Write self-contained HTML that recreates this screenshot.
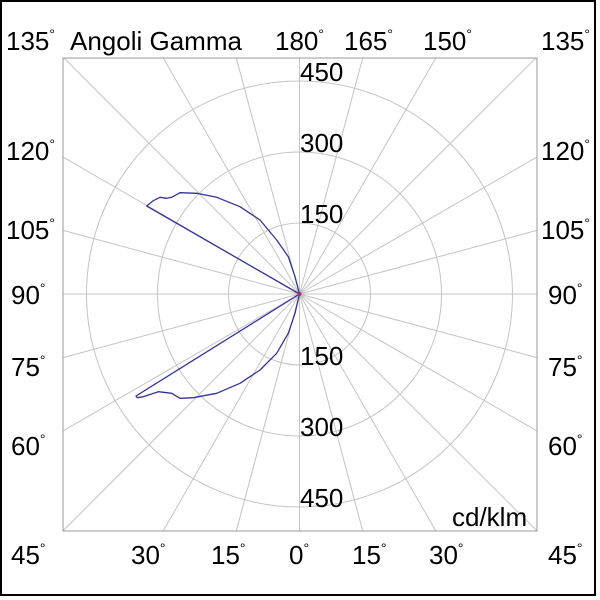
<!DOCTYPE html>
<html><head><style>body{margin:0;background:#fff}svg{display:block}</style></head><body>
<svg width="600" height="600" xmlns="http://www.w3.org/2000/svg" font-family="Liberation Sans, sans-serif">
<rect x="0" y="0" width="600" height="600" fill="#fff"/>
<rect x="1" y="1" width="594" height="594" fill="none" stroke="#000" stroke-width="2"/>
<defs><clipPath id="c"><rect x="63" y="58" width="474" height="473"/></clipPath></defs>
<g clip-path="url(#c)" stroke="#c4c4c4" stroke-width="1" fill="none">
<circle cx="299.5" cy="294" r="71"/>
<circle cx="299.5" cy="294" r="142"/>
<circle cx="299.5" cy="294" r="213"/>
<path d="M299.5,294 L299.5,58 M299.5,294 L299.5,531 M299.5,294 L63,294 M299.5,294 L537,294
M299.5,294 L362.7,58 M299.5,294 L236.3,58 M299.5,294 L362.7,531 M299.5,294 L236.3,531
M299.5,294 L435.8,58 M299.5,294 L163.2,58 M299.5,294 L435.8,531 M299.5,294 L163.2,531
M299.5,294 L537,57 M299.5,294 L63,57 M299.5,294 L537,531 M299.5,294 L63,531
M299.5,294 L537,157 M299.5,294 L63,157 M299.5,294 L537,431 M299.5,294 L63,431
M299.5,294 L537,230.4 M299.5,294 L63,230.4 M299.5,294 L537,357.6 M299.5,294 L63,357.6"/>
</g>
<rect x="63" y="58" width="474" height="473" fill="none" stroke="#999" stroke-width="1"/>
<path fill="none" stroke="#33339a" stroke-width="1.3" stroke-linejoin="round" d="M299.5,294 L146.7,206 L153.3,200.7 L160,197.3 L166.7,198.3 L171.7,197.3 L180,192.7 L196.7,193.3 L216.7,197.3 L240,206.7 L260,220 L276.7,240 L288.3,256.7 L295,276.7 Z"/>
<path fill="none" stroke="#33339a" stroke-width="1.3" stroke-linejoin="round" d="M299.5,294 L136,396 L137.3,397.7 L143.3,396.7 L158.3,391.7 L171.7,393.3 L180,398.3 L193.3,397.7 L216.7,393.3 L240,383.3 L260,370 L276.7,353.3 L288.3,333.3 L295,313.3 Z"/>
<circle cx="299.5" cy="294" r="2" fill="#a03060"/>
<g font-size="26" fill="#000">
<text x="300" y="81">450</text>
<text x="300" y="152">300</text>
<text x="300" y="223">150</text>
<text x="300" y="365">150</text>
<text x="300" y="436">300</text>
<text x="300" y="507">450</text>
<text x="452" y="526">cd/klm</text>
<text x="70" y="50">Angoli Gamma</text>
</g>
<g font-size="26" fill="#000">
<text x="6" y="50">135<tspan font-size="14" dy="-11">°</tspan></text>
<text x="275" y="50">180<tspan font-size="14" dy="-11">°</tspan></text>
<text x="344" y="50">165<tspan font-size="14" dy="-11">°</tspan></text>
<text x="423" y="50">150<tspan font-size="14" dy="-11">°</tspan></text>
<text x="541" y="50">135<tspan font-size="14" dy="-11">°</tspan></text>
<text x="6" y="160">120<tspan font-size="14" dy="-11">°</tspan></text>
<text x="541" y="160">120<tspan font-size="14" dy="-11">°</tspan></text>
<text x="6" y="239">105<tspan font-size="14" dy="-11">°</tspan></text>
<text x="541" y="239">105<tspan font-size="14" dy="-11">°</tspan></text>
<text x="11" y="304">90<tspan font-size="14" dy="-11">°</tspan></text>
<text x="548" y="304">90<tspan font-size="14" dy="-11">°</tspan></text>
<text x="11" y="376">75<tspan font-size="14" dy="-11">°</tspan></text>
<text x="548" y="376">75<tspan font-size="14" dy="-11">°</tspan></text>
<text x="11" y="455">60<tspan font-size="14" dy="-11">°</tspan></text>
<text x="548" y="455">60<tspan font-size="14" dy="-11">°</tspan></text>
<text x="11" y="564">45<tspan font-size="14" dy="-11">°</tspan></text>
<text x="131" y="564">30<tspan font-size="14" dy="-11">°</tspan></text>
<text x="211" y="564">15<tspan font-size="14" dy="-11">°</tspan></text>
<text x="289" y="564">0<tspan font-size="14" dy="-11">°</tspan></text>
<text x="352" y="564">15<tspan font-size="14" dy="-11">°</tspan></text>
<text x="429" y="564">30<tspan font-size="14" dy="-11">°</tspan></text>
<text x="548" y="564">45<tspan font-size="14" dy="-11">°</tspan></text>
</g>
</svg>
</body></html>
